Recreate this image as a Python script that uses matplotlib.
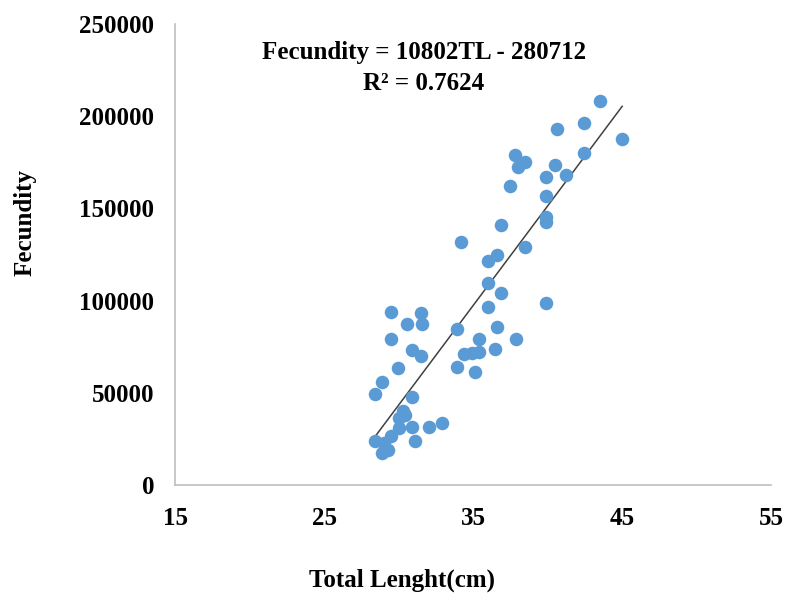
import matplotlib.pyplot as plt
import numpy as np

# Total length (cm) and fecundity
total_length = [43.5, 42.45, 40.6, 45.0, 42.45, 37.8, 38.5, 38.0, 40.5, 41.2,
                39.9, 37.5, 39.9, 39.9, 39.9, 36.9, 34.2, 38.5, 36.6, 36.0,
                36.0, 36.9, 39.9,
                29.5, 31.5, 36.0, 30.55, 31.6, 33.95, 36.57, 29.48, 35.4, 37.9,
                30.9, 31.5, 34.4, 34.9, 35.4, 36.45, 29.97, 33.95, 35.1,
                28.9, 28.4, 30.9, 30.3, 30.45, 30.0, 30.0, 30.9, 32.05, 32.9,
                29.5, 28.4, 29.0, 31.1, 29.3, 28.9]
fecundity = [208500, 196300, 193000, 187600, 180000, 179000, 175000, 172500, 173400, 168000,
             167000, 162000, 156500, 145300, 142600, 141000, 131600, 128900, 124800, 121700,
             109400, 104000, 98500,
             94000, 93400, 96400, 87100, 87100, 84600, 85500, 79200, 79200, 79200,
             73200, 70100, 70800, 71500, 72000, 73700, 63500, 63800, 61400,
             55700, 49300, 47600, 40000, 38000, 36200, 31100, 31300, 31300, 33800,
             26600, 23800, 22800, 24000, 19000, 17500]

SLOPE = 10802
INTERCEPT = -280712
R2 = 0.7624

x_ticks = [15, 25, 35, 45, 55]
y_ticks = [0, 50000, 100000, 150000, 200000, 250000]

plt.rcParams['font.family'] = ['Liberation Serif', 'DejaVu Serif']
plt.rcParams['font.weight'] = 'bold'

fig = plt.figure(figsize=(7.87, 5.96), dpi=100)
ax = fig.add_axes([0.2224, 0.1862, 0.7576, 0.7735])

ax.scatter(total_length, fecundity, s=95, color='#5B9BD5', zorder=3, linewidths=0)

# linear trendline over the data range
xs = np.array([min(total_length), max(total_length)])
ax.plot(xs, SLOPE * xs + INTERCEPT, color='#404040', linewidth=1.1, zorder=2)

ax.set_xlim(15, 55)
ax.set_ylim(0, 250000)
ax.set_xticks(x_ticks)
ax.set_yticks(y_ticks)
ax.set_xticklabels([str(v) for v in x_ticks], fontsize=18, fontweight='bold')
ax.set_yticklabels([str(v) for v in y_ticks], fontsize=18, fontweight='bold')
ax.tick_params(axis='x', length=0, pad=16)
ax.tick_params(axis='y', length=0, pad=15)

for side in ['top', 'right']:
    ax.spines[side].set_visible(False)
for side in ['left', 'bottom']:
    ax.spines[side].set_color('#BFBFBF')
    ax.spines[side].set_linewidth(1.2)

fig.text(424 / 787, 1 - 52 / 596, f'Fecundity = {SLOPE}TL - {abs(INTERCEPT)}',
         ha='center', va='center', fontsize=18, fontweight='bold')
fig.text(424 / 787, 1 - 83 / 596, f'R² = {R2}',
         ha='center', va='center', fontsize=18, fontweight='bold')

fig.text(402 / 787, 1 - 580 / 596, 'Total Lenght(cm)',
         ha='center', va='center', fontsize=18, fontweight='bold')
fig.text(25 / 787, 1 - 222 / 596, 'Fecundity', rotation=90,
         ha='center', va='center', fontsize=18, fontweight='bold')

fig.savefig('out.png', dpi=100)
